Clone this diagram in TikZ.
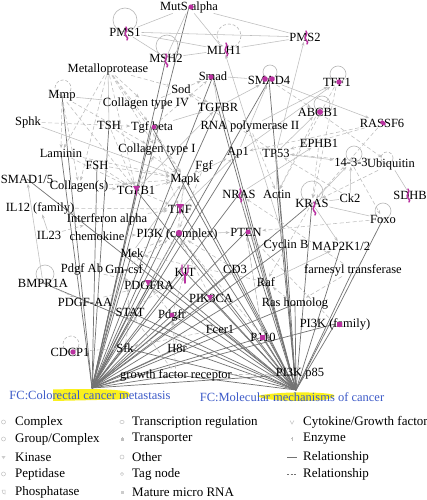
\documentclass[tikz,border=0pt]{standalone}
\usepackage{fontspec}
\setmainfont{Liberation Serif}
\usetikzlibrary{arrows.meta}
\pgfdeclarelayer{bg}
\pgfsetlayers{bg,main}
\definecolor{mag}{RGB}{185,50,160}
\definecolor{fcblue}{RGB}{60,90,200}
\definecolor{hl}{RGB}{250,240,30}
\tikzset{
 lbl/.style={inner sep=0.5pt, font=\fontsize{12.5}{13}\selectfont},
 fc/.style={inner sep=0.5pt, text=fcblue, font=\fontsize{12.5}{13}\selectfont},
 leg/.style={anchor=west, inner sep=0pt, font=\fontsize{13}{14}\selectfont},
 lk/.style={draw=black!26, line width=0.55pt},
 ld/.style={draw=black!26, line width=0.55pt, dash pattern=on 4pt off 2.5pt},
 dk/.style={draw=black!55, line width=0.7pt},
 ar/.style={-{Stealth[length=4pt,width=3pt]}},
 loopc/.style={draw=black!28, line width=0.6pt},
 loopd/.style={draw=black!28, line width=0.6pt, dash pattern=on 3pt off 2pt},
 magicon/.style={draw=mag, line width=1.5pt, line cap=round},
 legicon/.style={draw=gray!50, line width=0.5pt},
}
\newcommand\msq[2]{\draw[magicon] (#1,#2-6) .. controls (#1+3,#2-3) and (#1-3,#2) .. (#1,#2+3) .. controls (#1+2,#2+5) .. (#1+1,#2+7);}
\begin{document}
\begin{tikzpicture}[x=1pt,y=-1pt]
\useasboundingbox (0,0) rectangle (427,500);
% ---------- nodes ----------
\node[lbl] (MutS) at (189,7) {MutS alpha};
\node[lbl] (PMS1) at (125,32) {PMS1};
\node[lbl] (PMS2) at (305,37) {PMS2};
\node[lbl] (MLH1) at (224,50) {MLH1};
\node[lbl] (MSH2) at (166,58) {MSH2};
\node[lbl] (Smad) at (213,76) {Smad};
\node[lbl] (SMAD4) at (269,80) {SMAD4};
\node[lbl] (TFF1) at (337,82) {TFF1};
\node[lbl] (Metallo) at (108,69) {Metalloprotease};
\node[lbl] (Sod) at (181,89) {Sod};
\node[lbl] (CollIV) at (146,104) {Collagen type IV};
\node[lbl] (TGFBR) at (218,107) {TGFBR};
\node[lbl] (ABCB1) at (318,112) {ABCB1};
\node[lbl] (Mmp) at (62,96) {Mmp};
\node[lbl] (RASSF6) at (382,123) {RASSF6};
\node[lbl] (Sphk) at (28,122) {Sphk};
\node[lbl] (TSH) at (109,125) {TSH};
\node[lbl] (Tgfb) at (152,127) {Tgf beta};
\node[lbl] (RNApol) at (250,127) {RNA polymerase II};
\node[lbl] (EPHB1) at (319,143) {EPHB1};
\node[lbl] (Ap1) at (238,153) {Ap1};
\node[lbl] (TP53) at (276,153) {TP53};
\node[lbl] (Laminin) at (61,153) {Laminin};
\node[lbl] (CollI) at (157,150) {Collagen type I};
\node[lbl] (FSH) at (97,165) {FSH};
\node[lbl] (Fgf) at (204,166) {Fgf};
\node[lbl] (Mapk) at (185,179) {Mapk};
\node[lbl] (SMADf) at (27,179) {SMAD1/5};
\node[lbl] (Ub14) at (351,162) {14-3-3};
\node[lbl] (Ubiq) at (391,164) {Ubiquitin};
\node[lbl] (Colls) at (79,187) {Collagen(s)};
\node[lbl] (TGFB1) at (136,190) {TGFB1};
\node[lbl] (NRAS) at (239,194) {NRAS};
\node[lbl] (Actin) at (277,194) {Actin};
\node[lbl] (Ck2) at (350,198) {Ck2};
\node[lbl] (KRAS) at (312,203) {KRAS};
\node[lbl] (SDHB) at (410,195) {SDHB};
\node[lbl] (IL12) at (40,208) {IL12 (family)};
\node[lbl] (TNF) at (180,209) {TNF};
\node[lbl] (Foxo) at (383,219) {Foxo};
\node[lbl] (Ifn) at (107,219) {Interferon alpha};
\node[lbl] (IL23) at (49,235) {IL23};
\node[lbl] (chemo) at (97,236) {chemokine};
\node[lbl] (PI3Kc) at (177,234) {PI3K (complex)};
\node[lbl] (PTEN) at (246,232) {PTEN};
\node[lbl] (CyclinB) at (286,246) {Cyclin B};
\node[lbl] (MAP2K) at (341,246) {MAP2K1/2};
\node[lbl] (Mek) at (132,253) {Mek};
\node[lbl] (PdgfAb) at (82,269) {Pdgf Ab};
\node[lbl] (Gmcsf) at (124,269) {Gm-csf};
\node[lbl] (CD3) at (235,269) {CD3};
\node[lbl] (farn) at (353,270) {farnesyl transferase};
\node[lbl] (KIT) at (185,272) {KIT};
\node[lbl] (BMPR1A) at (43,283) {BMPR1A};
\node[lbl] (Raf) at (266,282) {Raf};
\node[lbl] (PDGFRA) at (149,285) {PDGFRA};
\node[lbl] (PIK3CA) at (211,298) {PIK3CA};
\node[lbl] (PDGFAA) at (85,302) {PDGF-AA};
\node[lbl] (Rashom) at (295,304) {Ras homolog};
\node[lbl] (STAT) at (130,312) {STAT};
\node[lbl] (Pdgfr) at (172,315) {Pdgfr};
\node[lbl] (PI3Kfam) at (335,324) {PI3K (family)};
\node[lbl] (Fcer1) at (220,329) {Fcer1};
\node[lbl] (P110) at (263,337) {P110};
\node[lbl] (Sfk) at (125,348) {Sfk};
\node[lbl] (H8r) at (177,348) {H8r};
\node[lbl] (CDCP1) at (70,352) {CDCP1};
\node[lbl] (gfr) at (176,375) {growth factor receptor};
\node[lbl] (p85) at (300,374) {PI3K p85};
\coordinate (LH) at (92,388);
\coordinate (RH) at (296,390);
% ---------- highlights and FC labels ----------
\fill[hl] (53,389.5) .. controls (90,388.5) and (118,389) .. (128,392) .. controls (133,395) and (128,398.5) .. (118,399.5) -- (53,401) -- cycle;
\fill[hl] (257,396) .. controls (275,391.5) and (320,391.5) .. (333,394.5) .. controls (338,396.5) and (330,400) .. (315,400.5) .. controls (290,401.5) and (265,400.5) .. cycle;
\node[fc] (FC1) at (90,395) {FC:Colorectal cancer metastasis};
\node[fc] (FC2) at (292,397) {FC:Molecular mechanisms of cancer};
% ---------- magenta icons ----------
\msq{126}{33} \msq{166}{60} \msq{226}{49} \msq{306}{37}
\msq{240}{195} \msq{314}{208} \msq{408}{195}
\fill[mag] (191,7) circle[radius=2.6];
\fill[mag] (211,77) circle[radius=2.6];
\fill[mag] (265,79) circle[radius=2.8];
\fill[mag] (272,79) circle[radius=2.8];
\fill[mag] (339,82) circle[radius=2.7];
\fill[mag] (320,112) circle[radius=3];
\fill[mag, rotate around={-40:(383,123)}] (383,123) ellipse[x radius=3.2, y radius=2];
\fill[mag] (154,127) circle[radius=2.3];
\fill[mag] (179,233) circle[radius=3.2];
\fill[mag] (248,232) circle[radius=2.5];
\fill[mag] (73,352) circle[radius=2.7];
\fill[mag] (176,204) -- (184,204) -- (180,210) -- cycle;
\draw[magicon, line width=1.3pt] (180,209) -- (180,213);
\fill[mag] (133,186) -- (140,186) -- (136.5,192) -- cycle;
\draw[magicon, line width=1.2pt] (136.5,191) -- (136.5,195);
\draw[magicon, line width=1.3pt] (182,265) -- (182,272) -- (185,276) -- (188,272) -- (188,265);
\draw[magicon, line width=1.5pt] (185,275) -- (185,283);
\fill[mag] (145,280) -- (151,280) -- (148,286) -- cycle;
\fill[mag] (172,315) circle[radius=2.4];
\fill[mag] (207,295) -- (213,295) -- (210,301) -- cycle;
\fill[mag] (259.5,334.5) rectangle (265,340);
\fill[mag] (336.5,321.5) rectangle (342,327);
% ---------- legend ----------
\node[leg] (lg1) at (15,422) {Complex};
\node[leg] (lg2) at (15,439) {Group/Complex};
\node[leg] (lg3) at (15,457) {Kinase};
\node[leg] (lg4) at (15,474) {Peptidase};
\node[leg] (lg5) at (15,492) {Phosphatase};
\node[leg] (lg6) at (132,422) {Transcription regulation};
\node[leg] (lg7) at (132,439) {Transporter};
\node[leg] (lg8) at (132,457) {Other};
\node[leg] (lg9) at (132,474) {Tag node};
\node[leg] (lg10) at (132,492) {Mature micro RNA};
\node[leg] (lg11) at (303,422) {Cytokine/Growth factor};
\node[leg] (lg12) at (303,439) {Enzyme};
\node[leg] (lg13) at (303,457) {Relationship};
\node[leg] (lg14) at (303,474) {Relationship};
\draw[legicon] (3.5,422) circle[radius=2];
\draw[legicon] (3.5,439) circle[radius=2];
\fill[gray!40] (1.5,456) -- (5.5,456) -- (3.5,459) -- cycle;
\draw[legicon] (3.5,474) circle[radius=2];
\draw[legicon] (2,490) -- (5,490) -- (5,494) .. controls (3,494) .. (2,490);
\draw[legicon] (122,422) ellipse[x radius=2.2, y radius=1.6];
\draw[legicon] (122,437) -- (122,441);
\draw[legicon] (121,438) rectangle (123,440.5);
\draw[legicon] (122,457) circle[radius=2];
\draw[legicon] (122,474) circle[radius=1.6];
\fill[gray!40] (120.5,490.5) rectangle (123.5,493.5);
\draw[legicon] (290,420.5) -- (292,424) -- (294,420.5);
\draw[legicon] (292,437) -- (292,441);
\draw[legicon] (291,438) -- (293,438);
\draw[black!55, line width=0.7pt] (287,457) -- (297,457);
\draw[black!55, line width=0.7pt, dash pattern=on 2pt off 1.5pt] (287,474) -- (297,474);
% ---------- edges ----------
\begin{pgfonlayer}{bg}
\fill[white] (0,0) rectangle (427,500);
% self loops
\draw[loopc] (PMS1.center) ++(0,-12) circle[radius=12];
\draw[loopc] (MSH2.center) ++(1,-12) circle[radius=11];
\draw[loopd] (MLH1.center) ++(5,-14) circle[radius=12];
\draw[loopc] (SMAD4.center) ++(1,-8) circle[radius=7];
\draw[loopc] (TFF1.center) ++(1,-8) circle[radius=8];
\draw[loopc] (ABCB1.center) ++(4,-8) circle[radius=8];
\draw[loopd] (Mmp.center) ++(1,-8) circle[radius=8];
\draw[loopc] (Ub14.center) ++(3,-8) circle[radius=8];
\draw[loopd] (Ubiq.center) ++(-4,-6) circle[radius=6];
\draw[loopc] (KRAS.center) ++(0,-11) circle[radius=11];
\draw[loopc] (Foxo.center) ++(0,-8) circle[radius=8];
\draw[loopc] (BMPR1A.center) ++(2,-9) circle[radius=9];
\draw[loopd] (CDCP1.center) ++(1,-8) circle[radius=8];
% hub connectors
\foreach \t in {Mmp,TSH,FSH,Laminin,MutS,MSH2,Tgfb,TGFB1,TNF,PI3Kc,SMAD4,Smad,TGFBR,NRAS,PTEN,KRAS,Raf,CD3,KIT,PDGFRA,Mek,STAT,Pdgfr,PIK3CA,P110,PI3Kfam,Rashom,Fcer1,Sfk,H8r,gfr,p85,Gmcsf,CyclinB,Ap1}
  \draw[dk] (LH) -- (\t.center);
\foreach \t in {SMAD4,Smad,TGFBR,TP53,NRAS,KRAS,PTEN,CyclinB,MAP2K,farn,PI3Kfam,Foxo,Rashom,Raf,CD3,P110,PIK3CA,Fcer1,KIT,PI3Kc,TNF,Mapk,TGFB1,Tgfb,Mek,PDGFRA,Pdgfr,STAT,H8r,Sfk,gfr,BMPR1A,SMADf,Actin}
  \draw[dk] (RH) -- (\t.center);
% light solid
\draw[lk] (MutS) -- (PMS1);
\draw[lk] (MutS) -- (PMS2);
\draw[lk] (MutS) -- (MLH1);
\draw[lk] (MutS) -- (MSH2);
\draw[lk] (PMS1) -- (PMS2);
\draw[lk] (PMS1) -- (MLH1);
\draw[lk] (PMS1) -- (MSH2);
\draw[lk] (MSH2) -- (MLH1);
\draw[lk] (MLH1) -- (PMS2);
\draw[lk,ar] (TP53) -- (PMS2);
\draw[lk,ar] (CyclinB) -- (MLH1);
\draw[lk] (Smad) -- (SMAD4);
\draw[lk,ar] (TGFBR) -- (SMAD4);
\draw[lk,ar] (Tgfb) -- (TGFBR);
\draw[lk,ar] (TGFB1) -- (TGFBR);
\draw[lk,ar] (TGFBR) -- (Smad);
\draw[lk,ar] (RNApol) -- (TFF1);
\draw[lk,ar] (Ap1) -- (SMAD4);
\draw[lk,ar] (TP53) -- (ABCB1);
\draw[lk,ar] (NRAS) -- (EPHB1);
\draw[lk,ar] (TP53) -- (Ub14);
\draw[lk,ar] (KRAS) -- (Ub14);
\draw[lk] (KRAS) -- (Ck2);
\draw[lk,ar] (Ck2) -- (Ub14);
\draw[lk] (KRAS) -- (Foxo);
\draw[lk] (Ubiq) -- (SDHB);
\draw[lk,ar] (KRAS) -- (MAP2K);
\draw[lk,ar] (Raf) -- (MAP2K);
\draw[lk] (Metallo) -- (TSH);
\draw[lk] (Mmp) -- (CollIV);
\draw[lk,ar] (Mapk) -- (Ap1);
\draw[lk,ar] (TNF) -- (Ap1);
\draw[lk,ar] (Mek) -- (Mapk);
\draw[lk,ar] (BMPR1A) -- (SMADf);
\draw[lk,ar] (IL23) -- (IL12);
\draw[lk,ar] (Sphk) -- (Mapk);
\draw[lk,ar] (Actin) -- (TP53);
\draw[lk,ar] (Fgf) -- (Mapk);
\draw[lk,ar] (PI3Kc) -- (PTEN);
\draw[lk,ar] (Ap1) -- (TFF1);
\draw[lk,ar] (SMAD4) -- (RASSF6);
% light dashed
\foreach \a/\b in {Metallo/CollIV,Metallo/CollI,Metallo/Colls,Metallo/Laminin,Metallo/Tgfb,Metallo/TGFB1,Metallo/Mapk,Metallo/Sod,
  Mmp/Laminin,Mmp/Colls,Mmp/CollI,Mmp/TGFB1,Sphk/Tgfb,Laminin/TGFB1,Laminin/Mapk,Colls/TGFB1,Colls/Mapk,TSH/Mapk,FSH/Mapk,
  Tgfb/Mapk,Tgfb/CollI,TGFB1/CollI,TGFB1/Mapk,TGFB1/TNF,TNF/Mapk,PI3Kc/Mapk,Ifn/TNF,chemo/PI3Kc,IL12/Ifn,IL12/TNF,IL23/Ifn,
  Fgf/PI3Kc,RASSF6/TP53,RASSF6/Ap1,RASSF6/KRAS,Ubiq/TP53,Ubiq/KRAS,Foxo/PTEN,Ck2/TP53,Ub14/Foxo,EPHB1/KRAS,ABCB1/Ubiq,
  TFF1/KRAS,TFF1/Actin,ABCB1/Actin,SMAD4/ABCB1,TP53/Sod,Pdgfr/PDGFRA,PDGFAA/PDGFRA,PdgfAb/PDGFRA,Gmcsf/STAT,KIT/STAT,
  Sfk/STAT,Fcer1/Sfk,P110/PI3Kc,PIK3CA/PI3Kc,gfr/Pdgfr,gfr/STAT,CDCP1/Sfk,H8r/Pdgfr,Rashom/Raf,PI3Kfam/PTEN,P110/PTEN,
  CD3/PI3Kc,Pdgfr/KIT,PDGFRA/PI3Kc,BMPR1A/PDGFAA,farn/Rashom,farn/NRAS,Sod/TGFBR,CollIV/Smad,Tgfb/Smad,RNApol/Actin,
  TSH/TGFB1,FSH/TGFB1,CollI/TNF,Mek/PI3Kc,Gmcsf/PI3Kc,Raf/Mek,NRAS/Raf,KRAS/Raf,PTEN/P110}
  \draw[ld,ar] (\a) -- (\b);
\draw[ld] (gfr) -- (p85);
\end{pgfonlayer}
\end{tikzpicture}
\end{document}
